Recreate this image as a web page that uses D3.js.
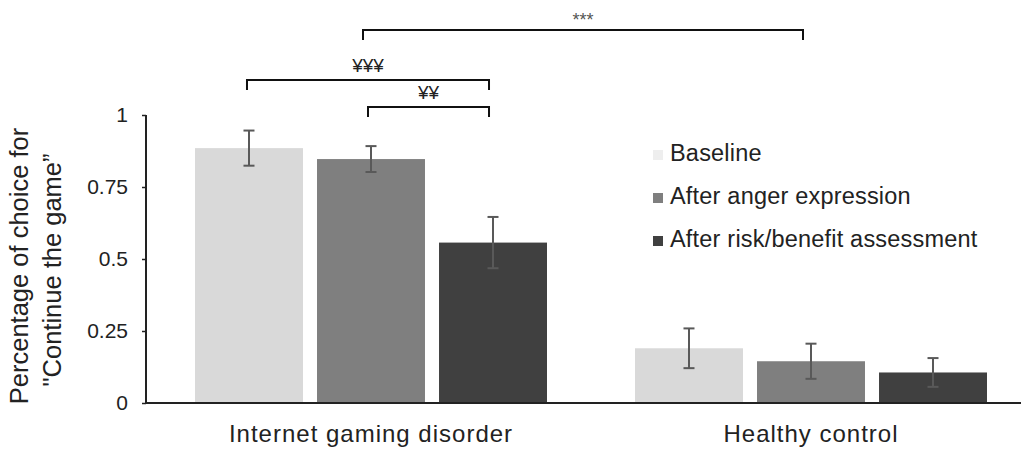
<!DOCTYPE html>
<meta charset="utf-8">
<html>
<head>
  <script src="https://d3js.org/d3.v7.min.js"></script>
  <style>
    body {
      margin: 0;
      background-color: white;
      font-family: "Liberation Sans", Arial, sans-serif;
    }
    text { fill: #222; }
  </style>
</head>
<body>
  <svg width="1022" height="450"></svg>

  <script>
    // data
    const groups = ["Internet gaming disorder", "Healthy control"];
    const conditions = ["Baseline", "After anger expression", "After risk/benefit assessment"];
    const meansIGD = [0.885, 0.847, 0.557];
    const meansHC = [0.19, 0.145, 0.106];
    const errIGD = [0.061, 0.045, 0.089];
    const errHC = [0.069, 0.061, 0.05];
    const yTicks = [0, 0.25, 0.5, 0.75, 1];
    const tickLabels = ["0", "0.25", "0.5", "0.75", "1"];

    const rows = [];
    groups.forEach((g, gi) => {
      const m = gi === 0 ? meansIGD : meansHC;
      const e = gi === 0 ? errIGD : errHC;
      conditions.forEach((c, ci) => rows.push({group: g, cond: c, value: m[ci], err: e[ci]}));
    });

    const svg = d3.select("svg");

    const x0 = d3.scaleBand()
        .domain(groups)
        .range([195, 987])
        .paddingInner(0.2);

    const x1 = d3.scaleBand()
        .domain(conditions)
        .range([0, x0.bandwidth()])
        .paddingInner(0.115);

    const y = d3.scaleLinear()
        .domain([0, 1])
        .range([403, 115]);

    const color = d3.scaleOrdinal()
        .domain(conditions)
        .range(["#d9d9d9", "#7f7f7f", "#404040"]);

    // bars
    svg.selectAll(".bar")
      .data(rows)
      .enter().append("rect")
        .attr("class", "bar")
        .attr("x", d => x0(d.group) + x1(d.cond))
        .attr("y", d => y(d.value))
        .attr("width", x1.bandwidth())
        .attr("height", d => y(0) - y(d.value))
        .attr("fill", d => color(d.cond));

    // error bars
    const cx = d => x0(d.group) + x1(d.cond) + x1.bandwidth() / 2;
    const eb = svg.selectAll(".err")
      .data(rows)
      .enter().append("g")
        .attr("class", "err")
        .attr("stroke", "#595959")
        .attr("stroke-width", 2);
    eb.append("line")
        .attr("x1", cx).attr("x2", cx)
        .attr("y1", d => y(d.value + d.err))
        .attr("y2", d => y(d.value - d.err));
    eb.append("line")
        .attr("x1", d => cx(d) - 5.5).attr("x2", d => cx(d) + 5.5)
        .attr("y1", d => y(d.value + d.err)).attr("y2", d => y(d.value + d.err));
    eb.append("line")
        .attr("x1", d => cx(d) - 5.5).attr("x2", d => cx(d) + 5.5)
        .attr("y1", d => y(d.value - d.err)).attr("y2", d => y(d.value - d.err));

    // y axis
    const yAxis = svg.append("g")
        .attr("transform", "translate(146,0)")
        .call(d3.axisLeft(y).tickValues(yTicks).tickFormat((d, i) => tickLabels[i]).tickSize(4).tickPadding(14));
    yAxis.select(".domain").attr("stroke", "#222").attr("stroke-width", 2)
        .attr("d", `M0,${y(1)}V${y(0)}`);
    yAxis.selectAll(".tick line").attr("stroke", "#222").attr("stroke-width", 1.5);
    yAxis.selectAll(".tick text")
        .style("font-family", "'Liberation Sans', Arial, sans-serif")
        .style("font-size", "21px")
        .attr("fill", "#222");

    // x axis line
    svg.append("line")
        .attr("x1", 146).attr("x2", 1021)
        .attr("y1", y(0)).attr("y2", y(0))
        .attr("stroke", "#222")
        .attr("stroke-width", 2);

    // group labels
    svg.selectAll(".glabel")
      .data(groups)
      .enter().append("text")
        .attr("class", "glabel")
        .attr("x", d => x0(d) + x0.bandwidth() / 2)
        .attr("y", 442)
        .attr("text-anchor", "middle")
        .style("font-size", "24px")
        .style("letter-spacing", "1px")
        .text(d => d);

    // y title
    const yt = svg.append("text")
        .attr("transform", "translate(0,266) rotate(-90)")
        .attr("text-anchor", "middle")
        .style("font-size", "25.5px");
    yt.append("tspan").attr("x", 0).attr("y", 28).text("Percentage of choice for");
    yt.append("tspan").attr("x", -4).attr("y", 61).text("\"Continue the game\u201D");

    // legend
    const legend = svg.selectAll(".legend")
      .data(conditions)
      .enter().append("g")
        .attr("class", "legend")
        .attr("transform", (d, i) => `translate(653, ${161 + i * 43})`);
    legend.append("rect")
        .attr("x", 0).attr("y", -11)
        .attr("width", 10).attr("height", 10)
        .attr("fill", (d, i) => i === 0 ? "#eeeeee" : color(d));
    legend.append("text")
        .attr("x", 17).attr("y", 0)
        .style("font-size", "23.5px")
        .style("letter-spacing", "0.2px")
        .text(d => d);

    // significance brackets
    const at = (g, c) => x0(groups[g]) + x1(conditions[c]) + x1.bandwidth() / 2;
    const brackets = [
      {x1: at(0, 1) - 8, x2: at(1, 1) - 8, y: 30, label: "***", size: 18, ty: 26},
      {x1: at(0, 0) - 2, x2: at(0, 2) - 4, y: 80, label: "\u00A5\u00A5\u00A5", size: 19, ty: 72},
      {x1: at(0, 1) - 3, x2: at(0, 2) - 4, y: 107, label: "\u00A5\u00A5", size: 19, ty: 99}
    ];
    svg.selectAll(".brk")
      .data(brackets)
      .enter().append("path")
        .attr("class", "brk")
        .attr("d", d => `M${d.x1},${d.y + 10}V${d.y}H${d.x2}V${d.y + 10}`)
        .attr("fill", "none")
        .attr("stroke", "#111")
        .attr("stroke-width", 2);
    svg.selectAll(".brklabel")
      .data(brackets)
      .enter().append("text")
        .attr("class", "brklabel")
        .attr("x", d => (d.x1 + d.x2) / 2)
        .attr("y", d => d.ty)
        .attr("text-anchor", "middle")
        .style("font-size", d => d.size + "px")
        .style("fill", d => d.label === "***" ? "#555" : "#222")
        .text(d => d.label);
  </script>
</body>
</html>
